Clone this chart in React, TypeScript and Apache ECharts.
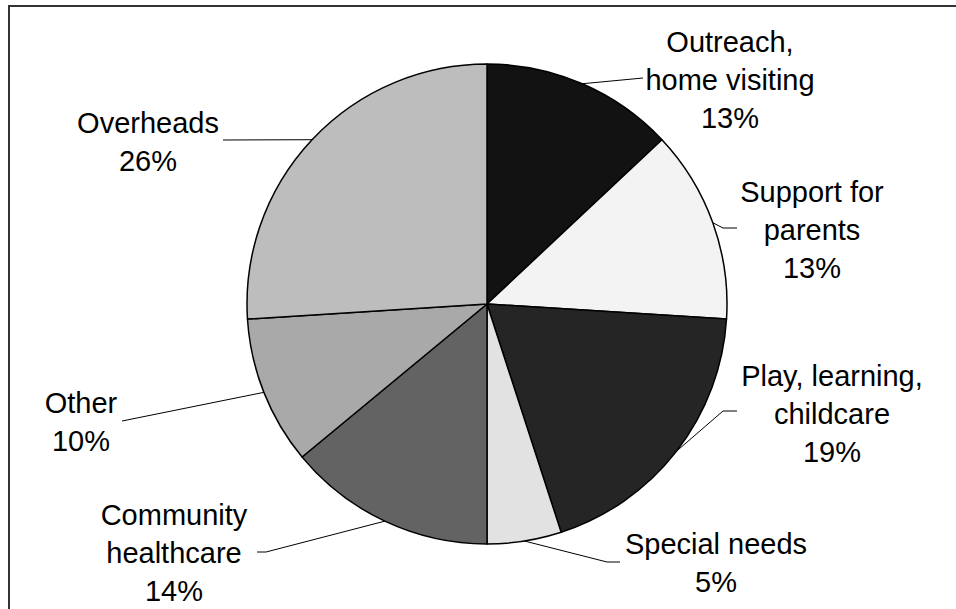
import React, { useEffect, useRef } from "react";
import * as echarts from "echarts";

const categories = [
  "Outreach,\nhome visiting",
  "Support for\nparents",
  "Play, learning,\nchildcare",
  "Special needs",
  "Community\nhealthcare",
  "Other",
  "Overheads",
];
const values = [13, 13, 19, 5, 14, 10, 26];
const sliceColors = ["#121212", "#f3f3f3", "#252525", "#e2e2e2", "#636363", "#a9a9a9", "#bdbdbd"];

// label block centres and leader-line end points (layout only)
const labelCenters = [
  [730, 80],
  [812, 230],
  [832, 414],
  [716, 563],
  [174, 553],
  [81, 422],
  [148, 142],
];
const leaderEnds = [
  [[643, 78]],
  [[723, 228], [737, 228]],
  [[723, 411], [737, 411]],
  [[607, 562], [620, 562]],
  [[266, 552], [257, 552]],
  [[122, 421]],
  [[223, 140]],
];

export default function App() {
  const ref = useRef<HTMLDivElement>(null);
  useEffect(() => {
    if (!ref.current) return;
    const chart = echarts.init(ref.current, null, { renderer: "svg" });
    chart.setOption({
      animation: false,
      backgroundColor: "#ffffff",
      graphic: [
        {
          type: "rect",
          shape: { x: 9, y: 6, width: 1200, height: 1200 },
          style: { fill: "none", stroke: "#333333", lineWidth: 2 },
          silent: true,
        },
      ],
      series: [
        {
          type: "pie",
          center: [487, 304],
          radius: 240,
          startAngle: 90,
          clockwise: true,
          avoidLabelOverlap: false,
          data: categories.map((c, i) => ({
            name: c,
            value: values[i],
            itemStyle: { color: sliceColors[i] },
          })),
          itemStyle: { borderColor: "#000000", borderWidth: 1.5 },
          label: {
            show: true,
            position: "outside",
            formatter: (p: any) => `${p.name}\n${p.value}%`,
            fontFamily: "'Liberation Sans', Arial, sans-serif",
            fontSize: 29,
            lineHeight: 38,
            color: "#000000",
            align: "center",
          },
          labelLine: {
            show: true,
            length: 10,
            length2: 10,
            lineStyle: { color: "#000000", width: 1 },
          },
          labelLayout: (params: any) => {
            const i = params.dataIndex;
            const start = params.labelLinePoints ? params.labelLinePoints[0] : leaderEnds[i][0];
            return {
              x: labelCenters[i][0],
              y: labelCenters[i][1],
              align: "center",
              verticalAlign: "middle",
              labelLinePoints: [start, ...leaderEnds[i]],
            };
          },
          emphasis: { disabled: true },
        },
      ],
    });
    return () => chart.dispose();
  }, []);
  return (
    <div
      ref={ref}
      style={{ position: "fixed", left: 0, top: 0, width: 956, height: 609, background: "#fff" }}
    />
  );
}
